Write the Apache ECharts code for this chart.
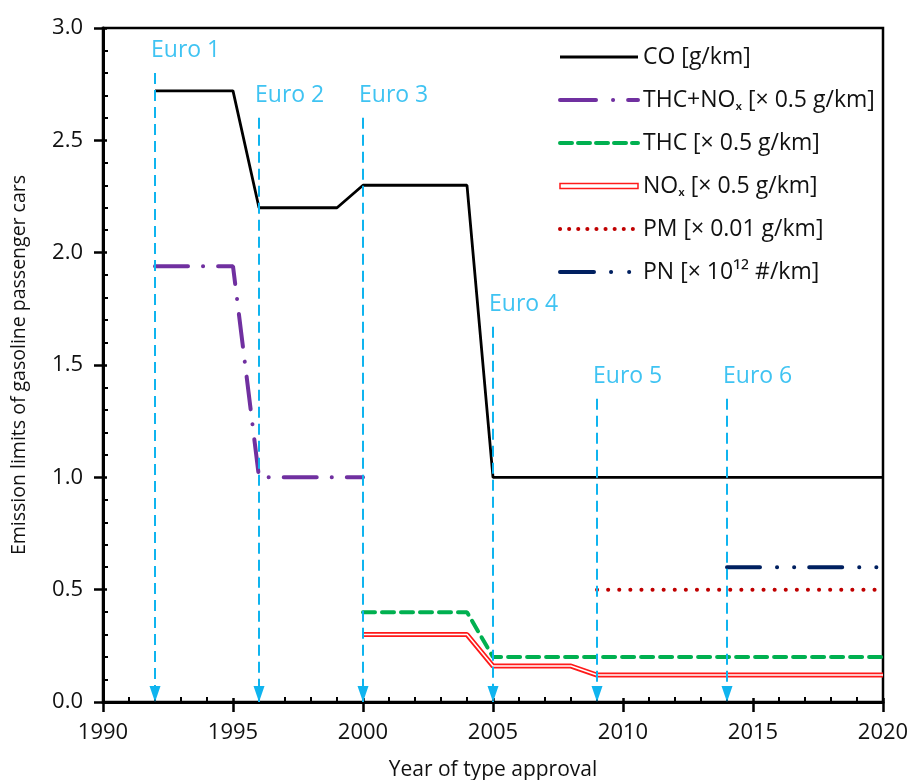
<!DOCTYPE html>
<html>
<head>
<meta charset="utf-8">
<script src="https://cdn.jsdelivr.net/npm/echarts@6/dist/echarts.min.js"></script>
<style>
  html, body { margin: 0; padding: 0; background: #fff; }
  #chart { width: 910px; height: 780px; }
</style>
</head>
<body>
<div id="chart"></div>
<script>
  // emission limits (scaled as in legend)
  var coData = [[1992, 2.72], [1995, 2.72], [1996, 2.2], [1999, 2.2], [2000, 2.3], [2004, 2.3], [2005, 1.0], [2020, 1.0]];
  var thcNoxData = [[1992, 1.94], [1995, 1.94], [1996, 1.0], [2000, 1.0]];
  var thcData = [[2000, 0.4], [2004, 0.4], [2005, 0.2], [2020, 0.2]];
  var noxData = [[2000, 0.3], [2004, 0.3], [2005, 0.16], [2008, 0.16], [2009, 0.12], [2020, 0.12]];
  var pmData = [[2009, 0.5], [2020, 0.5]];
  var pnData = [[2014, 0.6], [2020, 0.6]];

  // Euro stages
  var euroNames = ['Euro 1', 'Euro 2', 'Euro 3', 'Euro 4', 'Euro 5', 'Euro 6'];
  var euroYears = [1992, 1996, 2000, 2005, 2009, 2014];
  var euroTops = [2.8, 2.6, 2.6, 1.67, 1.35, 1.35];

  var names = ['CO [g/km]', 'THC+NOₓ [× 0.5 g/km]', 'THC [× 0.5 g/km]', 'NOₓ [× 0.5 g/km]', 'PM [× 0.01 g/km]', 'PN [× 10¹² #/km]'];

  var font = '"Open Sans", Lato, sans-serif';
  var blue = '#0fb4ef';

  var styles = [
    { color: '#000', width: 2.8 },
    { color: '#7030a0', width: 4, type: [33, 15, 0.1, 15], cap: 'round' },
    { color: '#00b050', width: 4, type: [12, 7], cap: 'round' },
    { color: '#ff1a1a', width: 5 },
    { color: '#c00000', width: 4, type: [0.1, 11], cap: 'round' },
    { color: '#002060', width: 4, type: [33, 17, 0.1, 17, 0.1, 15], cap: 'round' }
  ];
  // legend samples are shorter, so the dash patterns are redrawn for them
  var legendDash = [null, [36, 17, 0.1, 15], [12, 6], null, [0.1, 9], [34, 17, 0.1, 18, 0.1, 30]];

  var chart = echarts.init(document.getElementById('chart'));

  var euroLines = euroYears.map(function (y, i) {
    return [{ coord: [y, euroTops[i]] }, { coord: [y, 0] }];
  });
  var euroLabels = euroYears.map(function (y, i) {
    return [y, euroTops[i], euroNames[i]];
  });

  var legendData = names.map(function (n, i) {
    if (i === 3) {
      return { name: n, icon: 'rect', itemStyle: { color: '#fff', borderColor: '#ff1a1a', borderWidth: 1.5 } };
    }
    var ls = { width: styles[i].width, color: styles[i].color, cap: styles[i].cap || 'butt' };
    ls.type = legendDash[i] || 'solid';
    return { name: n, lineStyle: ls };
  });

  function baseLine(name, data, style) {
    return {
      name: name,
      type: 'line',
      data: data,
      symbol: 'none',
      silent: true,
      itemStyle: { color: style.color },
      lineStyle: style
    };
  }

  chart.setOption({
    animation: false,
    textStyle: { fontFamily: font },
    grid: {
      left: 103, right: 27, top: 28, bottom: 78,
      outerBoundsMode: 'none',
      show: true,
      borderColor: '#000',
      borderWidth: 2.5
    },
    legend: {
      data: legendData,
      orient: 'vertical',
      left: 553,
      top: 36,
      itemWidth: 78,
      itemHeight: 5,
      itemGap: 11,
      itemStyle: { color: 'rgba(0,0,0,0)', borderWidth: 0 },
      textStyle: { fontFamily: font, fontSize: 23, color: '#111', lineHeight: 32 }
    },
    xAxis: [{
      type: 'value',
      min: 1990, max: 2020, interval: 5,
      name: 'Year of type approval',
      nameLocation: 'middle',
      nameGap: 58,
      nameTextStyle: { fontSize: 21, color: '#111' },
      axisLine: { show: true, lineStyle: { color: '#000', width: 3 } },
      axisTick: { show: true, inside: true, length: 4, lineStyle: { color: '#000', width: 2.5 } },
      minorTick: { show: true, splitNumber: 5, length: 5, lineStyle: { color: '#000', width: 2 } },
      axisLabel: { fontSize: 22, color: '#111', margin: 20, formatter: function (v) { return String(v); } },
      splitLine: { show: false }
    }, {
      type: 'value',
      position: 'bottom',
      min: 1990, max: 2020, interval: 5,
      axisLine: { show: false },
      axisTick: { show: true, length: 10, lineStyle: { color: '#000', width: 2.5 } },
      axisLabel: { show: false },
      splitLine: { show: false }
    }],
    yAxis: [{
      type: 'value',
      min: 0, max: 3, interval: 0.5,
      name: 'Emission limits of gasoline passenger cars',
      nameLocation: 'middle',
      nameGap: 74,
      nameTextStyle: { fontSize: 19.5, color: '#111' },
      axisLine: { show: true, lineStyle: { color: '#000', width: 3 } },
      axisTick: { show: true, inside: true, length: 4, lineStyle: { color: '#000', width: 2.5 } },
      minorTick: { show: true, splitNumber: 5, length: 5, lineStyle: { color: '#000', width: 2 } },
      axisLabel: { fontSize: 22, color: '#111', margin: 20, formatter: function (v) { return v.toFixed(1); } },
      splitLine: { show: false }
    }, {
      type: 'value',
      position: 'left',
      min: 0, max: 3, interval: 0.5,
      axisLine: { show: false },
      axisTick: { show: true, length: 9, lineStyle: { color: '#000', width: 2.5 } },
      axisLabel: { show: false },
      splitLine: { show: false }
    }],
    series: [
      {
        name: 'euro',
        type: 'line',
        data: [],
        silent: true,
        markLine: {
          silent: true,
          symbol: ['none', 'triangle'],
          symbolSize: [11, 16],
          symbolOffset: [0, [0, 8]],
          label: { show: false },
          lineStyle: { color: blue, width: 2, type: [11, 6] },
          itemStyle: { color: blue },
          data: euroLines
        }
      },
      {
        name: 'euroLabels',
        type: 'scatter',
        data: euroLabels,
        symbolSize: 0,
        silent: true,
        label: {
          show: true,
          position: [-4, -34],
          formatter: function (p) { return p.value[2]; },
          fontSize: 23,
          color: blue,
          fontFamily: font
        }
      },
      baseLine(names[0], coData, styles[0]),
      baseLine(names[1], thcNoxData, styles[1]),
      baseLine(names[2], thcData, styles[2]),
      baseLine(names[3], noxData, styles[3]),
      baseLine('noxInner', noxData, { color: '#fff', width: 1.5 }),
      baseLine(names[4], pmData, styles[4]),
      baseLine(names[5], pnData, styles[5])
    ]
  });
</script>
</body>
</html>
